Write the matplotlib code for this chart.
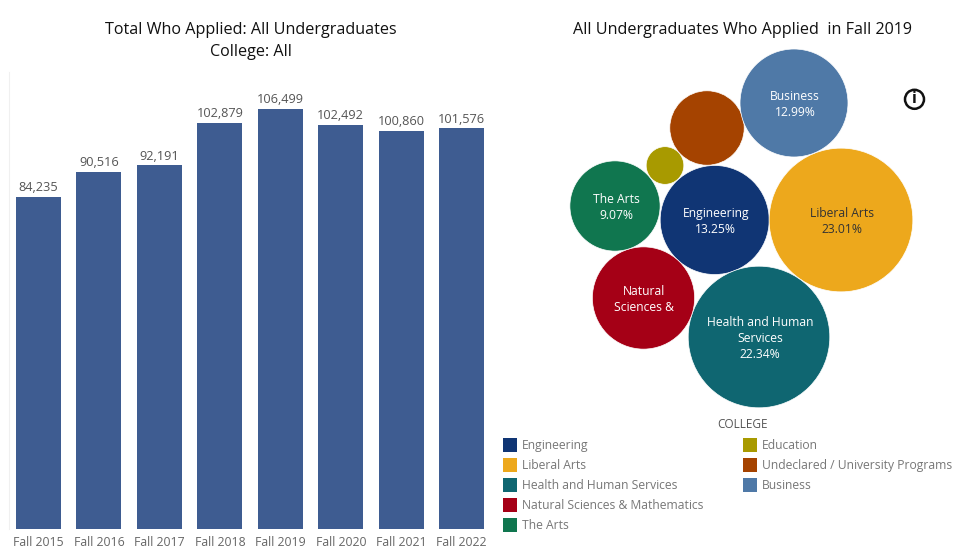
import matplotlib
matplotlib.use("Agg")
import numpy as np
import matplotlib.pyplot as plt
from matplotlib.patches import Circle, Rectangle

plt.rcParams['font.family'] = ['Open Sans', 'DejaVu Sans']

W, H = 973, 557

# bar chart data
terms = ['Fall 2015', 'Fall 2016', 'Fall 2017', 'Fall 2018',
         'Fall 2019', 'Fall 2020', 'Fall 2021', 'Fall 2022']
applied = [84235, 90516, 92191, 102879, 106499, 102492, 100860, 101576]

colleges = ['Engineering', 'Liberal Arts', 'Health and Human Services',
            'Natural Sciences & Mathematics', 'The Arts', 'Education',
            'Undeclared / University Programs', 'Business']
shares = [13.25, 23.01, 22.34, 11.65, 9.07, 1.58, 6.17, 12.99]
bubble_text = ['Engineering\n13.25%', 'Liberal Arts\n23.01%',
               'Health and Human\nServices\n22.34%', 'Natural\nSciences &',
               'The Arts\n9.07%', '', '', 'Business\n12.99%']
colors = ['#103574', '#EDA81C', '#0F6671', '#A50016',
          '#10764F', '#A89A00', '#A54300', '#4F79A7']
text_colors = ['white', '#333333', 'white', 'white', 'white', 'white', 'white', 'white']

# layout of the packed circles, in pixels
centers = [(714.7, 220), (841, 220), (759, 337), (643.5, 298),
           (615, 206), (665, 165.5), (707, 128), (794, 103)]
r_scale = 14.98

fig = plt.figure(figsize=(W / 100, H / 100), dpi=100)

# bars
left, right, top, bottom = 8.5, 490, 72, 529
ax = fig.add_axes([left / W, 1 - bottom / H, (right - left) / W, (bottom - top) / H])
px_per_bar = 60.45
ax.bar(range(len(terms)), applied, width=45 / px_per_bar, color='#3E5C91')
for i, v in enumerate(applied):
    ax.annotate(f'{v:,}', (i, v), xytext=(0, 2), textcoords='offset points',
                ha='center', va='bottom', fontsize=9.2, color='#555555')
ax.set_xlim((left - 38.5) / px_per_bar, (right - 38.5) / px_per_bar)
ax.set_ylim(0, (bottom - top) / 420 * 106499)
ax.set_xticks(range(len(terms)))
ax.set_xticklabels(terms, fontsize=8.8, color='#666666')
ax.tick_params(axis='x', length=0, pad=5)
ax.set_yticks([])
for s in ['top', 'right', 'bottom']:
    ax.spines[s].set_visible(False)
ax.spines['left'].set_color('#f0f0f0')

# everything else is placed in pixel coordinates
pane = fig.add_axes([0, 0, 1, 1], facecolor='none')
pane.set_xlim(0, W)
pane.set_ylim(H, 0)
pane.axis('off')

pane.text(250.5, 30, 'Total Who Applied: All Undergraduates', ha='center', va='center',
          fontsize=11.6, color='#111111')
pane.text(250.5, 52, 'College: All', ha='center', va='center', fontsize=11.6, color='#111111')
pane.text(742.5, 30, 'All Undergraduates Who Applied  in Fall 2019', ha='center', va='center',
          fontsize=11.6, color='#111111')

for share, (cx, cy), col, label, tc in zip(shares, centers, colors, bubble_text, text_colors):
    pane.add_patch(Circle((cx, cy), r_scale * np.sqrt(share), facecolor=col,
                          edgecolor='white', linewidth=0.5))
    if label:
        pane.text(cx + 1, cy + 1.5, label, ha='center', va='center', fontsize=8.7,
                  color=tc, linespacing=1.3)

# info icon
pane.add_patch(Circle((914.5, 99.3), 9.5, facecolor='white', edgecolor='#111111', linewidth=1.8))
pane.text(914.5, 99.3, 'i', ha='center', va='center', fontsize=11.5, fontweight='bold',
          color='#111111')

# legend
pane.text(742, 425, 'COLLEGE', ha='center', va='center', fontsize=8.5, color='#555555')
for i, (name, col) in enumerate(zip(colleges, colors)):
    col_x = 503 if i < 5 else 743
    row_y = 445 + 20 * (i if i < 5 else i - 5)
    pane.add_patch(Rectangle((col_x, row_y - 7), 14, 14, facecolor=col, edgecolor='none'))
    pane.text(col_x + 19, row_y + 0.5, name, ha='left', va='center', fontsize=8.75, color='#777777')

fig.savefig('out.png', dpi=100)
